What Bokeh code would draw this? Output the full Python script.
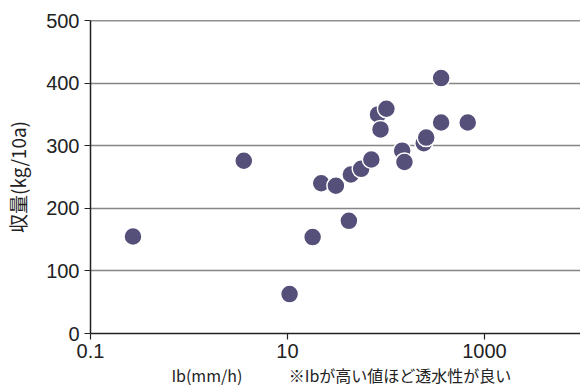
from bokeh.plotting import figure
from bokeh.models import ColumnDataSource, FixedTicker, Range1d, Span, LogAxis
from bokeh.embed import file_html
from bokeh.resources import INLINE

# Data
ib_values = [0.27, 3.6, 10.5, 18, 22, 31, 42, 44, 56, 71, 83, 88, 101,
             146, 154, 242, 256, 363, 363, 676]
yield_values = [155, 276, 63, 154, 240, 236, 180, 254, 263, 278, 350, 326, 359,
                292, 274, 304, 313, 408, 337, 337]
x_ticks = [0.1, 10, 1000]
x_tick_labels = ["0.1", "10", "1000"]
y_ticks = [0, 100, 200, 300, 400, 500]

y_title = "収量(kg/10a)"
x_title = "Ib(mm/h)"
note = "※Ibが高い値ほど透水性が良い"
# x positions (in Ib units) where the two caption texts are centred
caption_at = [1.52, 139]

NUM_FONT = "Liberation Sans"
JP_FONT = "Noto Sans CJK JP"
POINT = "#55507a"
INK = "#222222"

src = ColumnDataSource(dict(x=ib_values, y=yield_values))

p = figure(width=580, height=390, x_axis_type="log",
           x_range=Range1d(0.1, 9440), y_range=Range1d(0, 500),
           output_backend="svg", toolbar_location=None,
           min_border_left=90, min_border_right=0,
           min_border_top=20, min_border_bottom=57)

p.outline_line_color = None
p.xgrid.grid_line_color = None
p.ygrid.grid_line_color = "#858585"
p.ygrid.grid_line_width = 1.5
p.ygrid.ticker = FixedTicker(ticks=y_ticks)

p.xaxis.ticker = FixedTicker(ticks=x_ticks)
p.xaxis.major_label_overrides = {t: l for t, l in zip(x_ticks, x_tick_labels)}
p.yaxis.ticker = FixedTicker(ticks=y_ticks)

for ax in (p.xaxis[0], p.yaxis[0]):
    ax.axis_line_color = INK
    ax.axis_line_width = 1.5
    ax.major_tick_line_color = INK
    ax.major_tick_line_width = 1.2
    ax.major_tick_in = 0
    ax.major_tick_out = 6
    ax.minor_tick_line_color = None
    ax.major_label_text_font = NUM_FONT
    ax.major_label_text_font_size = "20px"
    ax.major_label_text_color = INK

p.xaxis.major_label_standoff = 4
p.yaxis.major_label_standoff = 5

p.yaxis.axis_label = y_title
p.yaxis.axis_label_text_font = JP_FONT
p.yaxis.axis_label_text_font_size = "19px"
p.yaxis.axis_label_text_font_style = "normal"
p.yaxis.axis_label_text_color = INK
p.yaxis.axis_label_standoff = 12

# caption row under the tick labels: the axis title and the note
cap_axis = LogAxis(ticker=FixedTicker(ticks=caption_at),
                   major_label_overrides={caption_at[0]: x_title, caption_at[1]: note},
                   axis_line_color=None, major_tick_line_color=None,
                   minor_tick_line_color=None, major_tick_in=0, major_tick_out=0,
                   major_label_standoff=2,
                   major_label_text_font=JP_FONT,
                   major_label_text_font_size="16px",
                   major_label_text_color=INK)
p.add_layout(cap_axis, "below")

p.add_layout(Span(location=500, dimension="width", line_color=INK, line_width=1.5))

p.scatter("x", "y", source=src, marker="circle", size=18,
          fill_color=POINT, line_color="white", line_width=1.5)

open("out.html", "w").write(file_html(p, INLINE))
